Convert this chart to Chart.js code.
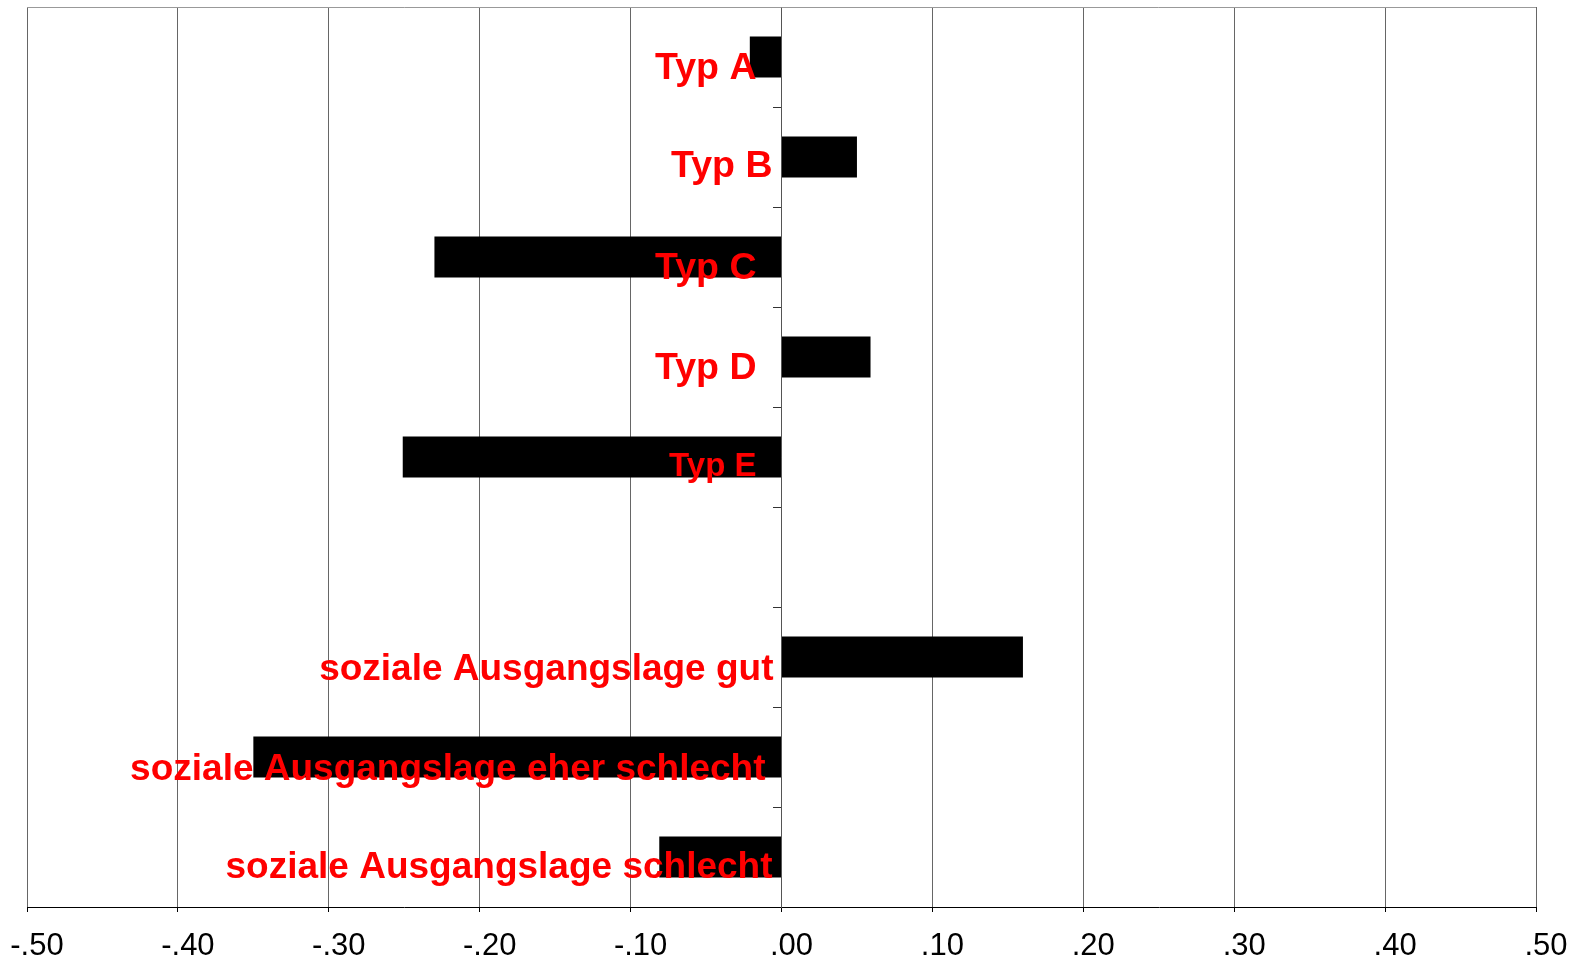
<!DOCTYPE html>
<html>
<head>
<meta charset="utf-8">
<script src="https://cdn.jsdelivr.net/npm/chart.js@4"></script>
<style>
  html, body { margin: 0; padding: 0; background: #fff; }
  #wrap { width: 1578px; height: 959px; }
</style>
</head>
<body>
<div id="wrap"><canvas id="chart" width="1578" height="959"></canvas></div>
<script>
// ===========================
// Data
// ===========================
const categories = [
  "Typ A", "Typ B", "Typ C", "Typ D", "Typ E", "",
  "soziale Ausgangslage gut",
  "soziale Ausgangslage eher schlecht",
  "soziale Ausgangslage schlecht"
];
const values = [-0.021, 0.05, -0.23, 0.059, -0.251, null, 0.16, -0.35, -0.081];
const xTickLabels = ["-.50", "-.40", "-.30", "-.20", "-.10", ".00", ".10", ".20", ".30", ".40", ".50"];

// label placement relative to the zero line / category centre: [dx, dy, font size]
const labelPlacement = [
  [-25, 22, 37.5], [-9, 20, 37.5], [-25, 22, 37.5], [-25, 22, 37.5], [-25, 19, 33], [0, 0, 37],
  [-8, 23, 37], [-16, 23, 37], [-9, 21, 37]
];

// ===========================
// Plugins
// ===========================
const redLabels = {
  id: "redLabels",
  afterDatasetsDraw(chart) {
    const ctx = chart.ctx;
    const xs = chart.scales.x, ys = chart.scales.y;
    const x0 = xs.getPixelForValue(0);
    ctx.save();
    ctx.fillStyle = "#ff0000";
    ctx.textAlign = "right";
    ctx.textBaseline = "alphabetic";
    categories.forEach((c, i) => {
      if (!c) return;
      const p = labelPlacement[i];
      ctx.font = "bold " + p[2] + "px 'Liberation Sans', Arial, sans-serif";
      ctx.fillText(c, x0 + p[0], ys.getPixelForValue(i) + p[1]);
    });
    ctx.restore();
  }
};

const topBorder = {
  id: "topBorder",
  afterDraw(chart) {
    const a = chart.chartArea, ctx = chart.ctx;
    ctx.save();
    ctx.strokeStyle = "#999";
    ctx.lineWidth = 1;
    ctx.beginPath();
    ctx.moveTo(a.left, a.top + 0.5);
    ctx.lineTo(a.right, a.top + 0.5);
    ctx.stroke();
    ctx.restore();
  }
};

// ===========================
// Chart
// ===========================
new Chart(document.getElementById("chart"), {
  type: "bar",
  data: {
    labels: categories,
    datasets: [{
      data: values,
      backgroundColor: "#000",
      borderWidth: 0,
      barPercentage: 0.41,
      categoryPercentage: 1
    }]
  },
  options: {
    indexAxis: "y",
    responsive: false,
    animation: false,
    devicePixelRatio: 1,
    layout: { padding: { left: 27, right: 42, top: 7, bottom: 0 } },
    plugins: { legend: { display: false }, tooltip: { enabled: false } },
    scales: {
      x: {
        min: -0.5, max: 0.5,
        afterBuildTicks: s => {
          s.ticks = xTickLabels.map((t, i) => ({ value: -0.5 + i * 0.1 }));
        },
        afterFit: s => { s.height = 52; s.paddingLeft = 0; s.paddingRight = 0; },
        ticks: {
          callback: (v, i) => xTickLabels[i],
          font: { family: "'Liberation Sans', Arial, sans-serif", size: 31 },
          color: "#000",
          padding: 16,
          labelOffset: 10,
          maxRotation: 0,
          autoSkip: false
        },
        grid: { color: "#666", lineWidth: 1, tickLength: 5, tickColor: "#000" },
        border: { color: "#000", width: 1 }
      },
      y: {
        position: { x: 0 },
        afterFit: s => { s.width = 0; },
        ticks: { display: false },
        grid: { drawOnChartArea: false, tickLength: 8, color: "#333", offset: true },
        border: { color: "#555", width: 1 }
      }
    }
  },
  plugins: [redLabels, topBorder]
});
</script>
</body>
</html>
